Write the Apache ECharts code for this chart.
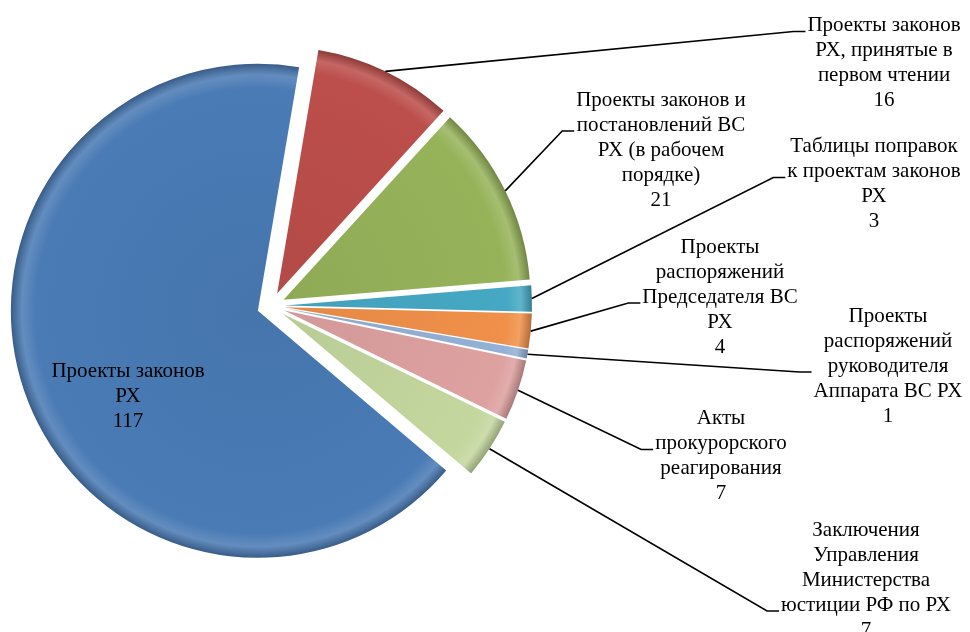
<!DOCTYPE html>
<html>
<head>
<meta charset="utf-8">
<script src="https://cdn.jsdelivr.net/npm/echarts@6/dist/echarts.min.js"></script>
<style>
  html, body { margin: 0; padding: 0; background: #ffffff; }
  #chart { width: 970px; height: 632px; }
</style>
</head>
<body>
<div id="chart"></div>
<script>
// Document categories (line breaks as they are set in the labels)
const categories = [
  'Проекты законов\nРХ',
  'Проекты законов\nРХ, принятые в\nпервом чтении',
  'Проекты законов и\nпостановлений ВС\nРХ (в рабочем\nпорядке)',
  'Таблицы поправок\nк проектам законов\nРХ',
  'Проекты\nраспоряжений\nПредседателя ВС\nРХ',
  'Проекты\nраспоряжений\nруководителя\nАппарата ВС РХ',
  'Акты\nпрокурорского\nреагирования',
  'Заключения\nУправления\nМинистерства\nюстиции РФ по РХ'
];
// Number of documents per category
const values = [117, 16, 21, 3, 4, 1, 7, 7];
// Slice colours
const colors = ['#4A7BB5', '#BC4E4B', '#96B35A', '#46A8C4', '#F0904A', '#93B0D6', '#DDA1A0', '#C4D79E'];

// Label placement: centre x, centre y, text line the leader attaches to (-1 = no leader)
const labelSpots = [
  [128, 396, -1],
  [884, 63, 0],
  [661, 150, 1],
  [874, 184, 1],
  [720, 297, 2],
  [888, 366, 2],
  [721, 456, 1],
  [866, 580, 3]
];

// Pie geometry
const CX = 271, CY = 306, R = 247, EXPLODE = 14;
const FIRST_ANGLE = 130.3;   // clockwise from 12 o'clock, degrees
const LINE_H = 25;

// Mid angle of each slice (radians, clockwise from 12 o'clock)
const total = values.reduce((a, b) => a + b, 0);
const midAngles = [];
let acc = FIRST_ANGLE;
values.forEach(v => {
  const span = v / total * 360;
  midAngles.push((acc + span / 2) * Math.PI / 180);
  acc += span;
});

function mix(hex, target, t) {
  const n = parseInt(hex.slice(1), 16);
  const c = [(n >> 16) & 255, (n >> 8) & 255, n & 255];
  const o = c.map(v => Math.round(v + (target - v) * t));
  return 'rgb(' + o.join(',') + ')';
}

// Bevel-like rim: flat body, light band, darker outer edge
function sliceFill(hex) {
  return {
    type: 'radial', x: CX, y: CY, r: R, global: true,
    colorStops: [
      { offset: 0, color: mix(hex, 0, 0.05) },
      { offset: 0.9, color: hex },
      { offset: 0.955, color: mix(hex, 255, 0.14) },
      { offset: 1, color: mix(hex, 0, 0.25) }
    ]
  };
}

const commonPie = {
  type: 'pie',
  center: [CX, CY],
  radius: R,
  startAngle: 90 - FIRST_ANGLE,
  clockwise: true,
  avoidLabelOverlap: false,
  emphasis: { disabled: true }
};

const chart = echarts.init(document.getElementById('chart'), null, { renderer: 'canvas' });
chart.setOption({
  backgroundColor: '#ffffff',
  animation: false,
  series: [
    // exploded slices
    Object.assign({}, commonPie, {
      selectedMode: 'multiple',
      selectedOffset: EXPLODE,
      data: categories.map((name, i) => ({
        name: name,
        value: values[i],
        selected: true,
        itemStyle: { color: sliceFill(colors[i]) }
      })),
      itemStyle: { borderWidth: 0 },
      select: { itemStyle: { borderWidth: 0 } },
      label: { show: false },
      labelLine: { show: false }
    }),
    // labels with leader lines
    Object.assign({}, commonPie, {
      silent: true,
      z: 3,
      data: categories.map((name, i) => ({
        name: name,
        value: values[i],
        labelLine: { show: labelSpots[i][2] >= 0 }
      })),
      itemStyle: { color: 'rgba(0,0,0,0)', borderWidth: 0 },
      label: {
        show: true,
        position: 'outside',
        formatter: '{b}\n{c}',
        fontFamily: 'Liberation Serif',
        fontSize: 21,
        lineHeight: LINE_H,
        color: '#000000',
        align: 'center'
      },
      labelLine: {
        show: true,
        lineStyle: { color: '#000000', width: 1.6 }
      },
      labelLayout: function (p) {
        const i = p.dataIndex;
        const spot = labelSpots[i];
        const w = p.labelRect.width, h = p.labelRect.height;
        const out = { x: spot[0], y: spot[1], align: 'center', verticalAlign: 'middle' };
        if (spot[2] >= 0) {
          const a = midAngles[i];
          const sx = CX + (R + EXPLODE) * Math.sin(a);
          const sy = CY - (R + EXPLODE) * Math.cos(a);
          const left = spot[0] - w / 2 - 2;
          const ly = spot[1] - h / 2 + (spot[2] + 0.5) * LINE_H + 6;
          out.labelLinePoints = [[sx, sy], [left - 12, ly], [left, ly]];
        }
        return out;
      }
    })
  ]
});
</script>
</body>
</html>
